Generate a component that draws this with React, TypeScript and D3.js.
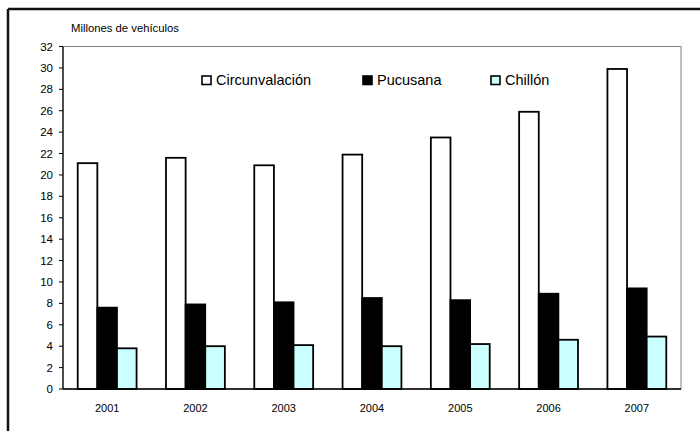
import React from "react";
import * as d3 from "d3";

const years = ["2001", "2002", "2003", "2004", "2005", "2006", "2007"];
const seriesNames = ["Circunvalación", "Pucusana", "Chillón"];
const circunvalacion = [21.1, 21.6, 20.9, 21.9, 23.5, 25.9, 29.9];
const pucusana = [7.6, 7.9, 8.1, 8.5, 8.3, 8.9, 9.4];
const chillon = [3.8, 4.0, 4.1, 4.0, 4.2, 4.6, 4.9];
const yTicks = d3.range(0, 33, 2);

const seriesValues = [circunvalacion, pucusana, chillon];
const fills = ["#ffffff", "#000000", "#ccffff"];

export default function App() {
  const width = 700;
  const height = 431;
  const left = 63;
  const right = 681;
  const top = 46.5;
  const bottom = 389;

  const x = d3.scaleBand<string>().domain(years).range([left, right]).padding(0);
  const xs = d3
    .scaleBand<string>()
    .domain(seriesNames)
    .range([0, x.bandwidth()])
    .paddingInner(0)
    .paddingOuter(0.75);
  const y = d3.scaleLinear().domain([0, 32]).range([bottom, top]);

  const font = "Liberation Sans, Arial, sans-serif";

  // legend placement
  const legend = [
    { name: seriesNames[0], x: 202 },
    { name: seriesNames[1], x: 363 },
    { name: seriesNames[2], x: 491 },
  ];

  return (
    <svg
      width={width}
      height={height}
      style={{ position: "absolute", left: 0, top: 0, background: "#fff" }}
      fontFamily={font}
    >
      <rect x={0} y={0} width={width} height={height} fill="#fff" />
      {/* outer frame (left + top visible) */}
      <line x1={8} y1={9} x2={8} y2={height} stroke="#111" strokeWidth={2.5} />
      <line x1={8} y1={9} x2={width} y2={9} stroke="#111" strokeWidth={2.5} />

      {/* plot area border */}
      <rect
        x={left}
        y={top}
        width={right - left}
        height={bottom - top}
        fill="none"
        stroke="#808080"
        strokeWidth={1}
      />

      {/* bars */}
      {years.map((yr, i) => (
        <g key={yr} transform={`translate(${x(yr)},0)`}>
          {seriesNames.map((s, j) => {
            const v = seriesValues[j][i];
            return (
              <rect
                key={s}
                x={xs(s)}
                y={y(v)}
                width={xs.bandwidth()}
                height={y(0) - y(v)}
                fill={fills[j]}
                stroke="#000"
                strokeWidth={1.8}
              />
            );
          })}
        </g>
      ))}

      {/* y axis */}
      <line x1={left} y1={top} x2={left} y2={bottom} stroke="#000" strokeWidth={1.2} />
      {yTicks.map((t) => (
        <g key={t}>
          <line x1={left - 4} x2={left} y1={y(t)} y2={y(t)} stroke="#000" strokeWidth={1} />
          <text
            x={53}
            y={y(t)}
            dy="0.35em"
            textAnchor="end"
            fontSize={11.5}
            fill="#000"
          >
            {t}
          </text>
        </g>
      ))}

      {/* x axis */}
      <line x1={left} y1={bottom} x2={right} y2={bottom} stroke="#000" strokeWidth={1.5} />
      {years.map((yr) => (
        <text
          key={yr}
          x={(x(yr) as number) + x.bandwidth() / 2}
          y={412}
          textAnchor="middle"
          fontSize={11}
          fill="#000"
        >
          {yr}
        </text>
      ))}

      {/* axis title */}
      <text x={71} y={32} fontSize={11} fill="#000" textLength={108} lengthAdjust="spacingAndGlyphs">
        Millones de vehículos
      </text>

      {/* legend */}
      {legend.map((l, j) => (
        <g key={l.name}>
          <rect
            x={l.x}
            y={76}
            width={9}
            height={8.5}
            fill={fills[j]}
            stroke="#000"
            strokeWidth={1.6}
          />
          <text x={l.x + 14} y={85} fontSize={14.5} fill="#000">
            {l.name}
          </text>
        </g>
      ))}
    </svg>
  );
}
